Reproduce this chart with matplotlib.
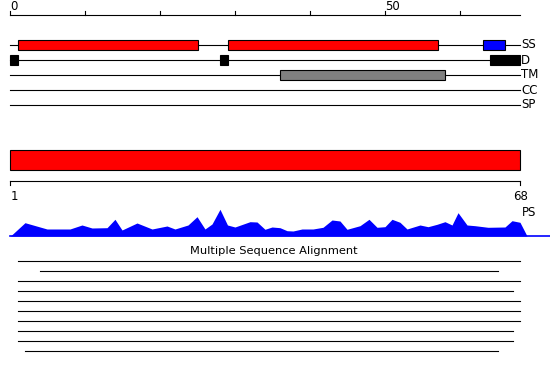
import matplotlib
matplotlib.use("Agg")
import matplotlib.pyplot as plt
from matplotlib.patches import Rectangle

# ---------------- data ----------------
seq_len = 68
scale_ticks = [0, 10, 20, 30, 40, 50, 60]
scale_labels = {0: "0", 50: "50"}

row_names = ["SS", "D", "TM", "CC", "SP"]
ss_domains = [(1, 25, "#ff0000"), (29, 57, "#ff0000"), (63, 66, "#0000ff")]
d_domains = [(0, 1), (28, 29), (64, 68)]
tm_domains = [(36, 58)]

full_bar = (0, 68)
end_labels = ["1", "68"]

ps_pos = [0, 1.93, 4.87, 7.93, 9.53, 10.87, 12.87, 13.93, 14.87, 16.87, 18.87,
          20.87, 21.93, 23.67, 24.87, 25.93, 26.87, 27.93, 28.93, 29.93, 31.93,
          32.87, 33.93, 34.87, 35.93, 36.87, 37.67, 38.87, 40.33, 41.67, 42.87,
          43.93, 44.87, 46.6, 47.8, 48.87, 49.93, 50.87, 51.93, 52.87, 54.6,
          55.67, 56.87, 57.93, 58.87, 59.67, 60.87, 61.93, 63.67, 65.93, 66.87,
          67.93, 68.87]
ps_score = [0, 13.3, 7, 7, 11, 8, 8.3, 16.7, 6, 13, 7,
            10, 7, 11, 19.3, 7, 12, 26.7, 11, 9, 14.3,
            14, 6.7, 9, 8.3, 5.3, 5, 7, 7, 8.7, 16,
            15, 6.7, 10.3, 16.7, 8.7, 9.3, 16.7, 13.7, 7, 11,
            9.3, 11.7, 14.3, 11, 23.3, 11, 10.3, 8.7, 9, 15.3,
            13.7, 0]

msa_title = "Multiple Sequence Alignment"
msa_start = [1, 4, 1, 1, 1, 1, 1, 1, 1, 2]
msa_end = [68, 65, 68, 67, 68, 68, 68, 67, 67, 65]

# ---------------- layout ----------------
W, H = 550, 380
X0, PX = 10.5, 7.5  # pixel of residue 0, pixels per residue
fig = plt.figure(figsize=(W / 100, H / 100), dpi=100)
ax = fig.add_axes([0, 0, 1, 1])
ax.set_xlim(-X0 / PX, (W - X0) / PX)
ax.set_ylim(H, 0)
ax.axis("off")

lw = 0.8
fs = 8.5

# top scale
ax.plot([0, seq_len], [15, 15], color="black", lw=lw)
for t in scale_ticks:
    ax.plot([t, t], [11, 15], color="black", lw=lw)
    if t in scale_labels:
        ax.text(t, 6, scale_labels[t], ha="left", va="center", fontsize=fs,
                family="DejaVu Sans", color="black")

# feature rows
row_y = [45, 60, 75, 90, 105]
bh = 10
for name, y in zip(row_names, row_y):
    ax.plot([0, seq_len], [y, y], color="black", lw=lw, zorder=1)
    ax.text(seq_len + 0.1, y, name, ha="left", va="center", fontsize=fs,
            family="DejaVu Sans")

for s, e, c in ss_domains:
    ax.add_patch(Rectangle((s, row_y[0] - bh / 2), e - s, bh, facecolor=c,
                           edgecolor="black", lw=lw, zorder=2))
for s, e in d_domains:
    ax.add_patch(Rectangle((s, row_y[1] - bh / 2), e - s, bh, facecolor="black",
                           edgecolor="black", lw=lw, zorder=2))
for s, e in tm_domains:
    ax.add_patch(Rectangle((s, row_y[2] - bh / 2), e - s, bh, facecolor="#808080",
                           edgecolor="black", lw=lw, zorder=2))

# full length bar
ax.add_patch(Rectangle((full_bar[0], 150), full_bar[1] - full_bar[0], 20,
                       facecolor="#ff0000", edgecolor="black", lw=lw))
ax.plot([0, seq_len], [180.5, 180.5], color="black", lw=lw)
for t in (0, seq_len):
    ax.plot([t, t], [180.5, 185], color="black", lw=lw)
ax.text(0, 196, end_labels[0], ha="left", va="center", fontsize=fs)
ax.text(seq_len, 196, end_labels[1], ha="center", va="center", fontsize=fs)
ax.text(seq_len + 0.2, 212, "PS", ha="left", va="center", fontsize=fs)

# profile
base = 236
ax.fill_between(ps_pos, [base - v for v in ps_score], base, color="#0000ff", lw=0)
ax.plot([0, (W - X0) / PX], [base, base], color="#0000ff", lw=1.2)

# MSA
ax.text((274 - X0) / PX, 251, msa_title, ha="center", va="center", fontsize=8.2)
for i, (s, e) in enumerate(zip(msa_start, msa_end)):
    y = 260.5 + 10 * i
    ax.plot([s, e], [y, y], color="black", lw=lw)

fig.savefig("out.png", dpi=100)
